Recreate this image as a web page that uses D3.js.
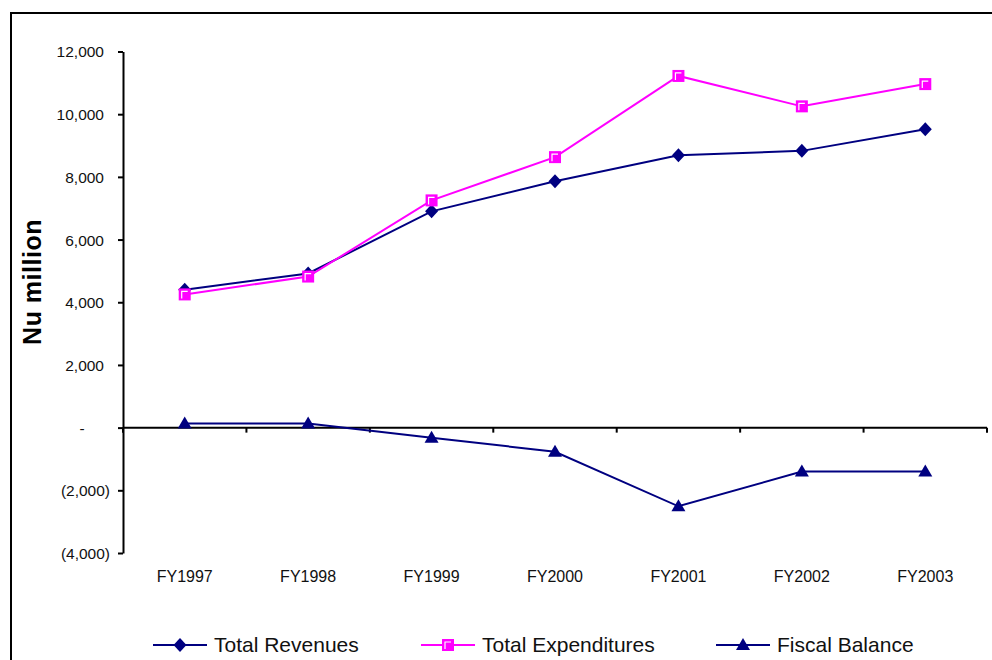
<!DOCTYPE html>
<html>
<head>
<meta charset="utf-8">
<script src="https://cdn.jsdelivr.net/npm/d3@7"></script>
<style>
  body { margin: 0; background: #fff; }
  svg { display: block; font-family: Arial, "Liberation Sans", sans-serif; }
</style>
</head>
<body>
<div id="chart"></div>
<script>
// chart data
const years = ["FY1997", "FY1998", "FY1999", "FY2000", "FY2001", "FY2002", "FY2003"];
const totalRevenues = [4400, 4920, 6900, 7860, 8690, 8830, 9520];
const totalExpenditures = [4250, 4820, 7250, 8630, 11220, 10250, 10960];
const fiscalBalance = [130, 130, -320, -770, -2510, -1400, -1400];
const yTicks = [-4000, -2000, 0, 2000, 4000, 6000, 8000, 10000, 12000];

const navy = "#000080", magenta = "#ff00ff";

const W = 992, H = 660;
const plot = {left: 123, right: 987, top: 51.5, bottom: 553};

const svg = d3.select("#chart").append("svg")
    .attr("width", W).attr("height", H);

// outer frame (runs off the right and bottom edge)
svg.append("rect")
    .attr("x", 11).attr("y", 13)
    .attr("width", 1000).attr("height", 700)
    .attr("fill", "none").attr("stroke", "#000").attr("stroke-width", 2);

const x = d3.scaleBand().domain(years).range([plot.left, plot.right]);
const y = d3.scaleLinear().domain([-4000, 12000]).range([plot.bottom, plot.top]);
const xc = d => x(d) + x.bandwidth() / 2;

// accounting style number format: 12,000 / - / (2,000)
const fmt = d3.format(",");
function acct(v) {
    if (v === 0) return "-";
    if (v < 0) return "(" + fmt(-v) + ")";
    return fmt(v);
}

// Y axis
const yAxis = svg.append("g")
    .attr("transform", `translate(${plot.left},0)`)
    .call(d3.axisLeft(y).tickValues(yTicks).tickFormat(acct).tickSize(5).tickPadding(0).tickSizeOuter(0));
yAxis.select(".domain").attr("stroke-width", 2);
yAxis.selectAll(".tick line").attr("stroke-width", 2);
yAxis.selectAll(".tick text")
    .attr("font-size", 15.5)
    .attr("font-family", "Arial, 'Liberation Sans', sans-serif")
    .attr("fill", "#111")
    .attr("dy", "0.35em")
    .attr("text-anchor", d => d === 0 ? "middle" : "end")
    .attr("x", d => d === 0 ? -41 : (d < 0 ? -13 : -19));

// X axis along zero line, ticks at category boundaries
const xAxis = svg.append("g")
    .attr("transform", `translate(0,${y(0)})`);
xAxis.append("line")
    .attr("x1", plot.left).attr("x2", plot.right)
    .attr("stroke", "#000").attr("stroke-width", 2);
xAxis.selectAll("line.tk")
    .data(years.concat(["end"]))
    .enter().append("line")
    .attr("class", "tk")
    .attr("x1", (d, i) => i < years.length ? x(d) : plot.right)
    .attr("x2", (d, i) => i < years.length ? x(d) : plot.right)
    .attr("y1", 0).attr("y2", 5)
    .attr("stroke", "#000").attr("stroke-width", 2);

// category labels sit below the plot
svg.append("g").selectAll("text")
    .data(years)
    .enter().append("text")
    .attr("x", d => xc(d))
    .attr("y", 582)
    .attr("text-anchor", "middle")
    .attr("font-size", 16)
    .attr("fill", "#111")
    .text(d => d);

// Y axis title
svg.append("text")
    .attr("transform", `translate(41,282)rotate(-90)`)
    .attr("text-anchor", "middle")
    .attr("font-size", 25)
    .attr("font-weight", "bold")
    .attr("letter-spacing", 0.5)
    .text("Nu million");

// markers
function diamond(g, c) {
    g.append("path").attr("d", "M0,-7L6.5,0L0,7L-6.5,0Z").attr("fill", c);
}
function square(g, c) {
    g.append("rect").attr("x", -6).attr("y", -6).attr("width", 12).attr("height", 12).attr("fill", c);
    g.append("path").attr("d", "M-3,4V-3H3").attr("fill", "none").attr("stroke", "#fff").attr("stroke-width", 1.2);
}
function triangle(g, c) {
    g.append("path").attr("d", "M0,-7L7,5L-7,5Z").attr("fill", c);
}

const series = [
    {name: "Total Revenues", values: totalRevenues, color: navy, marker: diamond},
    {name: "Total Expenditures", values: totalExpenditures, color: magenta, marker: square},
    {name: "Fiscal Balance", values: fiscalBalance, color: navy, marker: triangle}
];

const line = d3.line()
    .x((d, i) => xc(years[i]))
    .y(d => y(d));

// draw fiscal balance first, then revenues, expenditures on top
[series[2], series[0], series[1]].forEach(s => {
    svg.append("path")
        .attr("d", line(s.values))
        .attr("fill", "none")
        .attr("stroke", s.color)
        .attr("stroke-width", 2);
    s.values.forEach((v, i) => {
        const g = svg.append("g").attr("transform", `translate(${xc(years[i])},${y(v)})`);
        s.marker(g, s.color);
    });
});

// legend
const legendX = [153, 421, 716];
const legend = svg.append("g").attr("transform", "translate(0,645)");
series.forEach((s, i) => {
    const g = legend.append("g").attr("transform", `translate(${legendX[i]},0)`);
    g.append("line").attr("x1", 0).attr("x2", 54).attr("y1", 0).attr("y2", 0)
        .attr("stroke", s.color).attr("stroke-width", 2);
    const m = g.append("g").attr("transform", "translate(27,0)");
    s.marker(m, s.color);
    g.append("text")
        .attr("x", 61).attr("y", 0).attr("dy", "0.35em")
        .attr("font-size", 21)
        .attr("fill", "#111")
        .text(s.name);
});
</script>
</body>
</html>
